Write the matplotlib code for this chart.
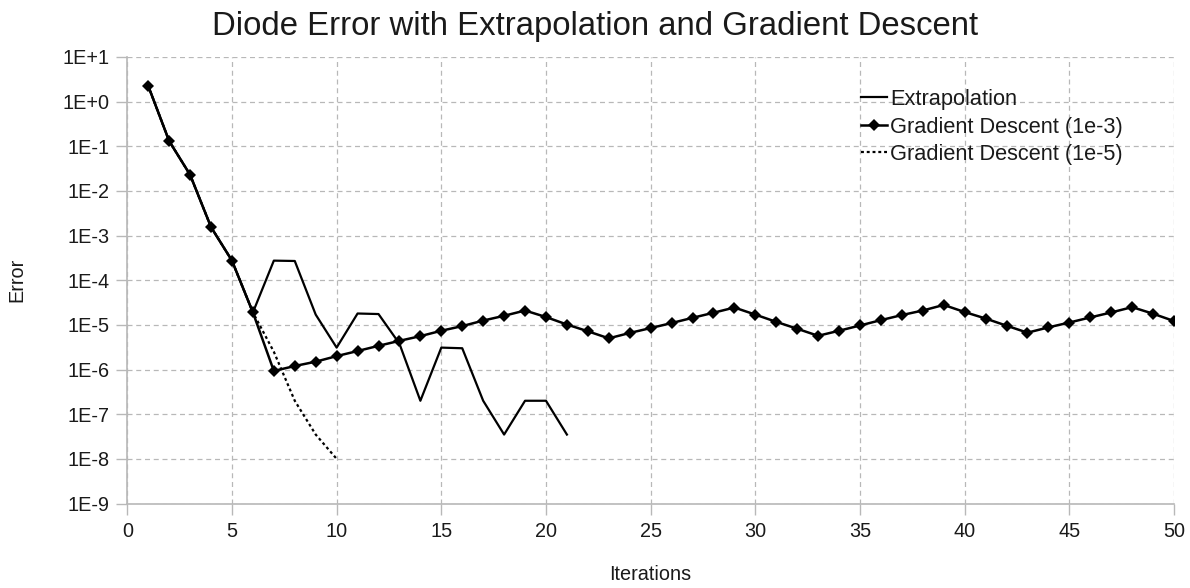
import matplotlib
matplotlib.use("Agg")
import matplotlib.pyplot as plt
import numpy as np

plt.rcParams['font.family'] = ['Liberation Sans', 'DejaVu Sans']

# ---- data ----
iters_gd3 = list(range(1, 51))
gd3 = [2.25, 0.131, 0.023, 1.55e-3, 2.75e-4, 1.9e-5, 9.3e-7, 1.2e-6, 1.5e-6, 2.0e-6,
       2.6e-6, 3.4e-6, 4.4e-6, 5.6e-6, 7.4e-6, 9.4e-6, 1.25e-5, 1.6e-5, 2.1e-5, 1.5e-5,
       1.02e-5, 7.2e-6, 5.0e-6, 6.6e-6, 8.5e-6, 1.1e-5, 1.44e-5, 1.87e-5, 2.45e-5, 1.7e-5,
       1.17e-5, 8.2e-6, 5.7e-6, 7.4e-6, 9.7e-6, 1.28e-5, 1.66e-5, 2.1e-5, 2.8e-5, 1.94e-5,
       1.39e-5, 9.6e-6, 6.7e-6, 8.8e-6, 1.13e-5, 1.47e-5, 1.9e-5, 2.5e-5, 1.78e-5, 1.22e-5]

iters_extrap = list(range(1, 22))
extrap = [2.25, 0.131, 0.023, 1.55e-3, 2.75e-4, 1.9e-5, 2.75e-4, 2.7e-4, 1.7e-5, 3.1e-6,
          1.8e-5, 1.75e-5, 3.8e-6, 2.0e-7, 3.1e-6, 3.0e-6, 2.0e-7, 3.5e-8, 2.0e-7, 2.0e-7,
          3.5e-8]

iters_gd5 = list(range(1, 11))
gd5 = [2.25, 0.131, 0.023, 1.55e-3, 2.75e-4, 1.9e-5, 2.5e-6, 2.0e-7, 3.5e-8, 1.0e-8]

x_ticks = [0, 5, 10, 15, 20, 25, 30, 35, 40, 45, 50]
y_ticks = [1e1, 1e0, 1e-1, 1e-2, 1e-3, 1e-4, 1e-5, 1e-6, 1e-7, 1e-8, 1e-9]
y_tick_labels = ['1E+1', '1E+0', '1E-1', '1E-2', '1E-3', '1E-4', '1E-5', '1E-6',
                 '1E-7', '1E-8', '1E-9']

title = 'Diode Error with Extrapolation and Gradient Descent'
x_label = 'Iterations'
y_label = 'Error'
names = ['Extrapolation', 'Gradient Descent (1e-3)', 'Gradient Descent (1e-5)']

# ---- figure ----
W, H = 1190, 588
fig = plt.figure(figsize=(W / 100, H / 100), dpi=100)
ax = fig.add_axes([127.3 / W, (H - 503.5) / H, 1046.7 / W, 446.5 / H])

text_color = '#1a1a1a'
grid_color = '#b8b8b8'

l1, = ax.plot(iters_extrap, extrap, color='black', lw=1.6, zorder=3)
l2, = ax.plot(iters_gd3, gd3, color='black', lw=1.8, marker='D', ms=6,
              markeredgewidth=0, zorder=4)
l3, = ax.plot(iters_gd5, gd5, color='black', lw=1.6, linestyle=(0, (1.3, 1.3)), zorder=3)

ax.set_yscale('log')
ax.set_xlim(0, 50)
ax.set_ylim(1e-9, 1e1)
ax.set_xticks(x_ticks)
ax.set_xticklabels([str(t) for t in x_ticks])
ax.set_yticks(y_ticks)
ax.set_yticklabels(y_tick_labels)
ax.yaxis.set_minor_locator(matplotlib.ticker.NullLocator())

ax.grid(True, which='major', color=grid_color, linestyle=(0, (4, 3)), lw=0.9)
ax.set_axisbelow(True)
for s in ['top', 'right']:
    ax.spines[s].set_visible(False)
for s in ['left', 'bottom']:
    ax.spines[s].set_color(grid_color)
    ax.spines[s].set_linewidth(1.2)

ax.tick_params(axis='both', which='major', length=8, width=1.0, color=grid_color,
               labelsize=14.3, labelcolor=text_color, pad=5)

fig.text(17 / W, 1 - 280 / H, y_label, rotation=90, ha='center', va='center',
         fontsize=14.3, color=text_color)
fig.text(650 / W, 1 - 574 / H, x_label, ha='center', va='center',
         fontsize=14.3, color=text_color)
fig.text(595 / W, 1 - 35 / H, title, ha='center', va='baseline',
         fontsize=23.7, color=text_color)

fig.legend([l1, l2, l3], names, loc='upper left',
           bbox_to_anchor=(860.5 / W, 1 - 89 / H), frameon=False,
           fontsize=15.7, borderpad=0, borderaxespad=0, handlelength=1.2,
           handletextpad=0.15, labelspacing=0.30, labelcolor=text_color)

fig.savefig('out.png', dpi=100)
